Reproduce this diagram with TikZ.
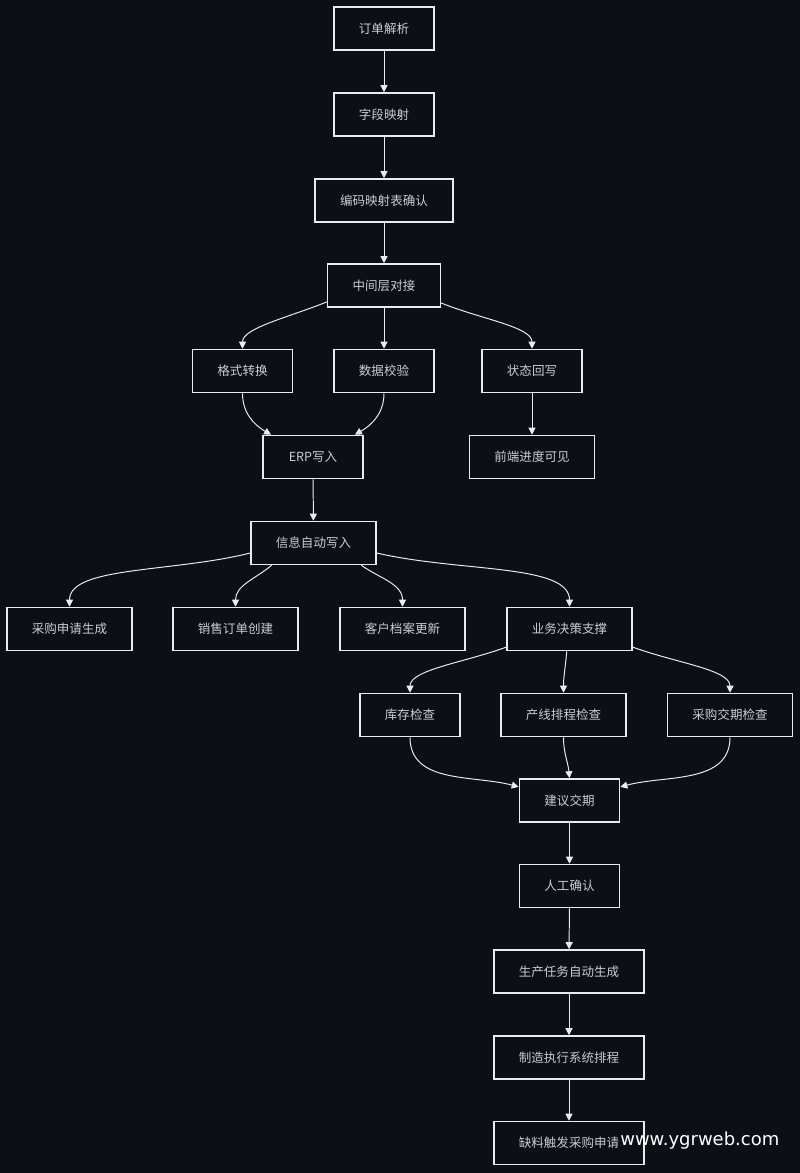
\documentclass[tikz,border=0pt]{standalone}
\usepackage{fontspec}
\newfontfamily\cjk{Noto Sans CJK SC}
\newfontfamily\wmfont{DejaVu Sans}
\usetikzlibrary{arrows.meta}
\definecolor{bgdark}{RGB}{12,15,22}
\definecolor{txtgray}{RGB}{205,205,205}

\begin{document}
\begin{tikzpicture}[x=0.025cm, y=-0.025cm,
    flowbox/.style={draw=white!92!black, line width=1.1pt, fill=bgdark, text=txtgray,
        font=\cjk\fontsize{8.9}{10}\selectfont, minimum width=2.5cm, minimum height=1.075cm, inner xsep=0.625cm},
    flow/.style={draw=white!92!black, line width=0.7pt, -{Triangle[length=5pt,width=5pt]}},
    fan/.style={out looseness=1.1, in looseness=0.55}]
    \fill[bgdark] (0,0) rectangle (800,1173);
    % Kette oben
    \node[flowbox] (order) at (384,28.5) {订单解析};
    \node[flowbox] (field) at (384,114.5) {字段映射};
    \node[flowbox] (code) at (384,200.5) {编码映射表确认};
    \node[flowbox] (mid) at (384,285.5) {中间层对接};
    \node[flowbox] (fmt) at (242.5,371) {格式转换};
    \node[flowbox] (check) at (384,371) {数据校验};
    \node[flowbox] (state) at (532,371) {状态回写};
    \node[flowbox] (erp) at (313,457) {ERP写入};
    \node[flowbox] (front) at (532,457) {前端进度可见};
    \node[flowbox] (info) at (313.5,543) {信息自动写入};
    % Verzweigung
    \node[flowbox] (pur) at (69.5,629) {采购申请生成};
    \node[flowbox] (sale) at (235.5,629) {销售订单创建};
    \node[flowbox] (cust) at (402.5,629) {客户档案更新};
    \node[flowbox] (biz) at (569.5,629) {业务决策支撑};
    \node[flowbox] (stock) at (410,715) {库存检查};
    \node[flowbox] (line) at (563.5,715) {产线排程检查};
    \node[flowbox] (lead) at (730,715) {采购交期检查};
    \node[flowbox] (sug) at (569.5,800.5) {建议交期};
    \node[flowbox] (manual) at (569.5,886) {人工确认};
    \node[flowbox] (task) at (569,971.5) {生产任务自动生成};
    \node[flowbox] (mes) at (569,1057.5) {制造执行系统排程};
    \node[flowbox] (short) at (569,1143) {缺料触发采购申请};

    \draw[flow] (order) -- (field);
    \draw[flow] (field) -- (code);
    \draw[flow] (code) -- (mid);
    \draw[flow] (mid.196) to[out=202,in=90,fan] (fmt.north);
    \draw[flow] (mid) -- (check);
    \draw[flow] (mid.343) to[out=-22,in=90,fan] (state.north);
    \draw[flow] (fmt.south) to[out=-90,in=150] (erp.152);
    \draw[flow] (check.south) to[out=-90,in=30] (erp.28);
    \draw[flow] (state) -- (front);
    \draw[flow] (erp) -- (info);
    \draw[flow] (info.189) to[out=194,in=90,fan] (pur.north);
    \draw[flow] (info.208) to[out=220,in=90] (sale.north);
    \draw[flow] (info.335) to[out=-35,in=90] (cust.north);
    \draw[flow] (info.351) to[out=-13,in=90,fan] (biz.north);
    \draw[flow] (biz.196) to[out=200,in=90,fan] (stock.north);
    \draw[flow] (biz.263) to[out=-95,in=90] (line.north);
    \draw[flow] (biz.344) to[out=-20,in=90,fan] (lead.north);
    \draw[flow] (stock.south) to[out=-90,in=165] (sug.165);
    \draw[flow] (line.south) to[out=-90,in=95] (sug.north);
    \draw[flow] (lead.south) to[out=-90,in=15] (sug.15);
    \draw[flow] (sug) -- (manual);
    \draw[flow] (manual) -- (task);
    \draw[flow] (task) -- (mes);
    \draw[flow] (mes) -- (short);

    \node[font=\wmfont\fontsize{12.8}{15}\selectfont, text=white, anchor=west, inner sep=0pt] (mark) at (620,1141) {www.ygrweb.com};
\end{tikzpicture}
\end{document}
